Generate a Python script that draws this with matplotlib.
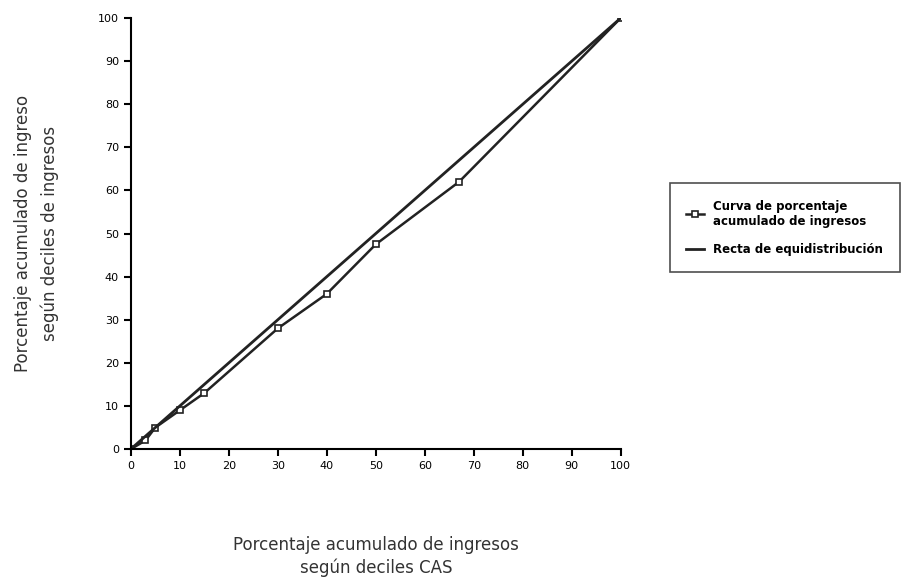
import matplotlib
matplotlib.use("Agg")
import matplotlib.pyplot as plt

# datos
x_cas = [0, 3, 5, 10, 15, 30, 40, 50, 67, 100]
y_ingreso = [0, 2, 5, 9, 13, 28, 36, 47.5, 62, 100]
x_equi = [0, 100]
y_equi = [0, 100]
ticks = list(range(0, 101, 10))

fig = plt.figure(figsize=(9.21, 5.81), dpi=100)
ax = fig.add_axes([0.142, 0.227, 0.532, 0.742])

ax.plot(x_cas, y_ingreso, color="#222222", lw=1.8, marker="s", markersize=5,
        markerfacecolor="white", markeredgecolor="#222222", markeredgewidth=1.2,
        label="Curva de porcentaje\nacumulado de ingresos")
ax.plot(x_equi, y_equi, color="#222222", lw=2.0, label="Recta de equidistribución")

ax.set_xlim(0, 100)
ax.set_ylim(0, 100)
ax.set_xticks(ticks)
ax.set_yticks(ticks)
ax.tick_params(direction="out", length=5, width=1.5, labelsize=8)
for s in ["top", "right"]:
    ax.spines[s].set_visible(False)
for s in ["left", "bottom"]:
    ax.spines[s].set_linewidth(1.5)

ax.set_xlabel("Porcentaje acumulado de ingresos\nsegún deciles CAS", fontsize=12,
              labelpad=47, color="#333333", linespacing=1.3)
ax.set_ylabel("Porcentaje acumulado de ingreso\nsegún deciles de ingresos", fontsize=12,
              labelpad=28, color="#333333", linespacing=1.6)

leg = fig.legend(loc="upper left", bbox_to_anchor=(0.727, 0.685),
                 prop={"size": 8.5, "weight": "bold"},
                 frameon=True, fancybox=False, edgecolor="#222222", handlelength=1.5,
                 borderpad=1.4, labelspacing=1.3, borderaxespad=0)
leg.get_frame().set_linewidth(1.2)

fig.savefig("out.png", dpi=100)
